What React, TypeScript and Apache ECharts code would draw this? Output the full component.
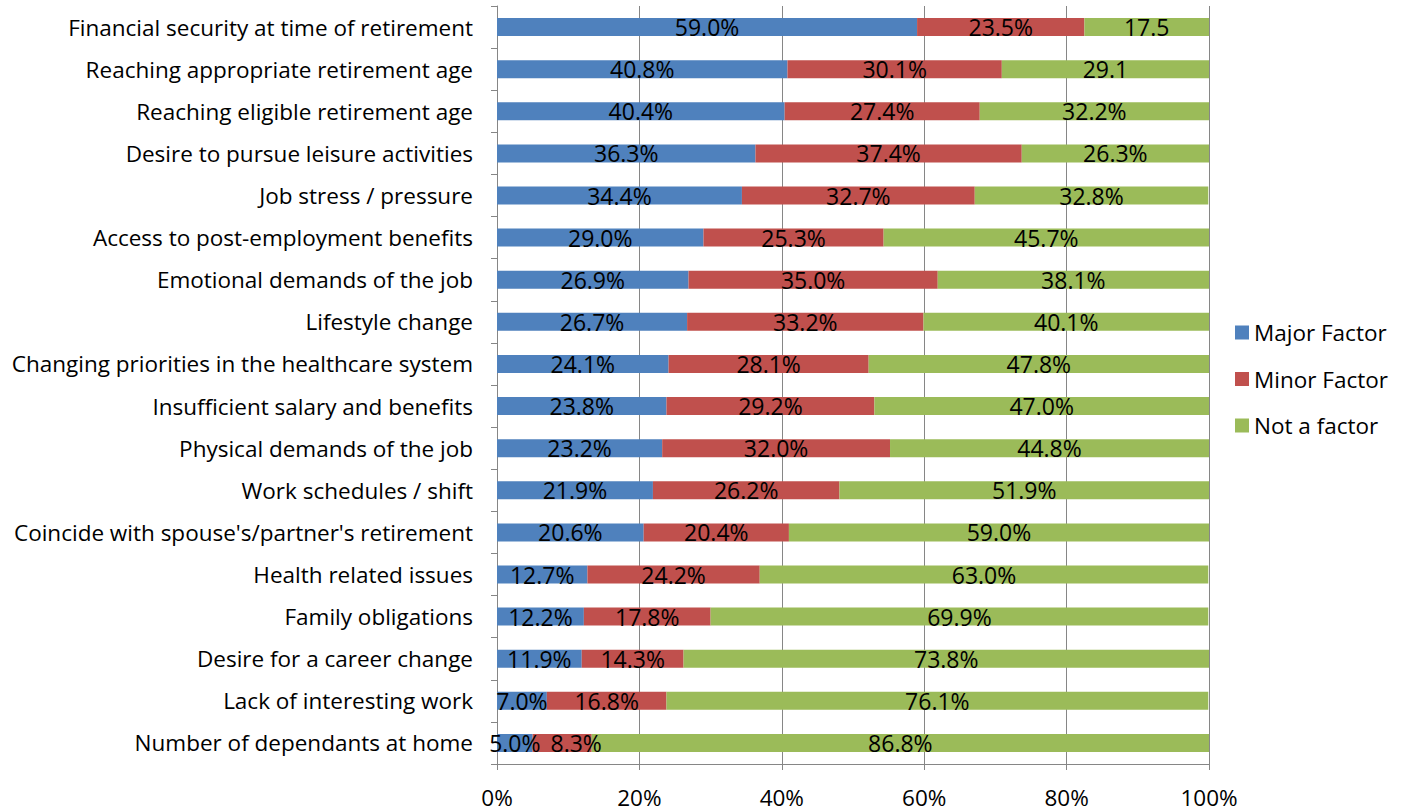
import React, { useEffect, useRef } from "react";
import * as echarts from "echarts";

const categories = [
  "Financial security at time of retirement",
  "Reaching appropriate retirement age",
  "Reaching eligible retirement age",
  "Desire to pursue leisure activities",
  "Job stress / pressure",
  "Access to post-employment benefits",
  "Emotional demands of the job",
  "Lifestyle change",
  "Changing priorities in the healthcare system",
  "Insufficient salary and benefits",
  "Physical demands of the job",
  "Work schedules / shift",
  "Coincide with spouse's/partner's retirement",
  "Health related issues",
  "Family obligations",
  "Desire for a career change",
  "Lack of interesting work",
  "Number of dependants at home",
];

const majorFactor = [59.0, 40.8, 40.4, 36.3, 34.4, 29.0, 26.9, 26.7, 24.1, 23.8, 23.2, 21.9, 20.6, 12.7, 12.2, 11.9, 7.0, 5.0];
const minorFactor = [23.5, 30.1, 27.4, 37.4, 32.7, 25.3, 35.0, 33.2, 28.1, 29.2, 32.0, 26.2, 20.4, 24.2, 17.8, 14.3, 16.8, 8.3];
const notAFactor = [17.5, 29.1, 32.2, 26.3, 32.8, 45.7, 38.1, 40.1, 47.8, 47.0, 44.8, 51.9, 59.0, 63.0, 69.9, 73.8, 76.1, 86.8];
// the source chart shows the first two "Not a factor" labels truncated (no % sign)
const notAFactorLabels = ["17.5", "29.1", "32.2%", "26.3%", "32.8%", "45.7%", "38.1%", "40.1%", "47.8%", "47.0%", "44.8%", "51.9%", "59.0%", "63.0%", "69.9%", "73.8%", "76.1%", "86.8%"];
const xTicks = [0, 20, 40, 60, 80, 100];

const FONT = "Open Sans";
const FS = 22.5;

export default function App() {
  const ref = useRef<HTMLDivElement>(null);
  useEffect(() => {
    if (!ref.current) return;
    const chart = echarts.init(ref.current, undefined, { renderer: "svg" });
    const labelStyle = {
      show: true,
      position: "inside" as const,
      color: "#000",
      fontSize: 23,
      fontFamily: FONT,
    };
    const lastIdx = categories.length - 1;
    chart.setOption({
      animation: false,
      textStyle: { fontFamily: FONT },
      grid: { left: 497, right: 197, top: 6, bottom: 48, containLabel: false },
      legend: {
        orient: "vertical",
        left: 1230,
        top: 316,
        itemGap: 23.5,
        itemWidth: 14,
        itemHeight: 14,
        icon: "rect",
        textStyle: { fontSize: FS, color: "#000", fontFamily: FONT },
        data: ["Major Factor", "Minor Factor", "Not a factor"],
      },
      xAxis: {
        type: "value",
        min: 0,
        max: 100,
        interval: 20,
        axisLine: { show: true, lineStyle: { color: "#868686" } },
        axisTick: { show: true, length: 6, lineStyle: { color: "#868686" } },
        splitLine: { show: true, lineStyle: { color: "#868686", width: 1 } },
        axisLabel: {
          fontSize: FS,
          color: "#000",
          fontFamily: FONT,
          margin: 22,
          formatter: (v: number) => (xTicks.includes(v) ? `${v}%` : ""),
        },
      },
      yAxis: {
        type: "category",
        inverse: true,
        data: categories,
        axisLine: { show: true, lineStyle: { color: "#868686" } },
        axisTick: { show: true, length: 6, lineStyle: { color: "#868686" } },
        axisLabel: { fontSize: FS, color: "#000", fontFamily: FONT, margin: 24 },
      },
      series: [
        {
          name: "Major Factor",
          type: "bar",
          stack: "total",
          barWidth: 18,
          data: majorFactor,
          itemStyle: { color: "#4F81BD" },
          label: { ...labelStyle, formatter: (p: any) => `${Number(p.value).toFixed(1)}%` },
        },
        {
          name: "Minor Factor",
          type: "bar",
          stack: "total",
          barWidth: 18,
          data: minorFactor.map((v, i) =>
            i === lastIdx ? { value: v, label: { offset: [14, 0] } } : v
          ),
          itemStyle: { color: "#C0504D" },
          label: { ...labelStyle, formatter: (p: any) => `${Number(p.value).toFixed(1)}%` },
        },
        {
          name: "Not a factor",
          type: "bar",
          stack: "total",
          barWidth: 18,
          data: notAFactor,
          itemStyle: { color: "#9BBB59" },
          label: { ...labelStyle, formatter: (p: any) => notAFactorLabels[p.dataIndex] },
        },
      ],
    });
    return () => chart.dispose();
  }, []);
  return (
    <div
      ref={ref}
      style={{ position: "absolute", left: 0, top: 0, width: 1406, height: 812, background: "#fff" }}
    />
  );
}
